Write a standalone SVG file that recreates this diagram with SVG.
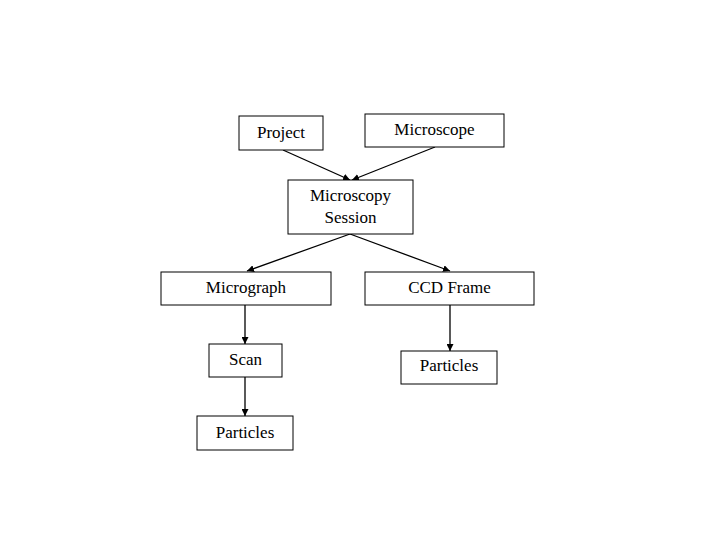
<svg xmlns="http://www.w3.org/2000/svg" width="720" height="540" viewBox="0 0 720 540">
<style>
.box{fill:#fff;stroke:#000;stroke-width:1}
.t{font-family:"Liberation Serif","Times New Roman",serif;font-size:17px;fill:#000;text-anchor:middle}
.c{stroke:#000;stroke-width:1.3;fill:none;marker-end:url(#ah)}
</style>
<defs>
<marker id="ah" viewBox="0 0 10 10" refX="10" refY="5" markerWidth="7" markerHeight="7" markerUnits="userSpaceOnUse" orient="auto">
<path d="M0,0 L10,5 L0,10 z" fill="#000"/>
</marker>
</defs>
<rect width="720" height="540" fill="#fff"/>
<g id="connectors">
<line class="c" x1="283" y1="150" x2="350" y2="180"/>
<line class="c" x1="435" y1="147" x2="352" y2="180"/>
<line class="c" x1="350" y1="234" x2="247" y2="271"/>
<line class="c" x1="350" y1="234" x2="450" y2="271"/>
<line class="c" x1="245" y1="305" x2="245" y2="344"/>
<line class="c" x1="450" y1="305" x2="450" y2="351"/>
<line class="c" x1="245" y1="377" x2="245" y2="416"/>
</g>
<g id="project"><rect class="box" x="239" y="116" width="84" height="34"/><text class="t" x="281" y="138">Project</text></g>
<g id="microscope"><rect class="box" x="365" y="114" width="139" height="33"/><text class="t" x="434.5" y="135">Microscope</text></g>
<g id="session"><rect class="box" x="288" y="180" width="125" height="54"/><text class="t" x="350.5" y="201">Microscopy</text><text class="t" x="350.5" y="223">Session</text></g>
<g id="micrograph"><rect class="box" x="161" y="272" width="170" height="33"/><text class="t" x="246" y="293">Micrograph</text></g>
<g id="ccdframe"><rect class="box" x="365" y="272" width="169" height="33"/><text class="t" x="449.5" y="293">CCD Frame</text></g>
<g id="scan"><rect class="box" x="209" y="344" width="73" height="33"/><text class="t" x="245.5" y="365">Scan</text></g>
<g id="particles2"><rect class="box" x="401" y="351" width="96" height="33"/><text class="t" x="449" y="371">Particles</text></g>
<g id="particles1"><rect class="box" x="197" y="416" width="96" height="34"/><text class="t" x="245" y="438">Particles</text></g>
</svg>
